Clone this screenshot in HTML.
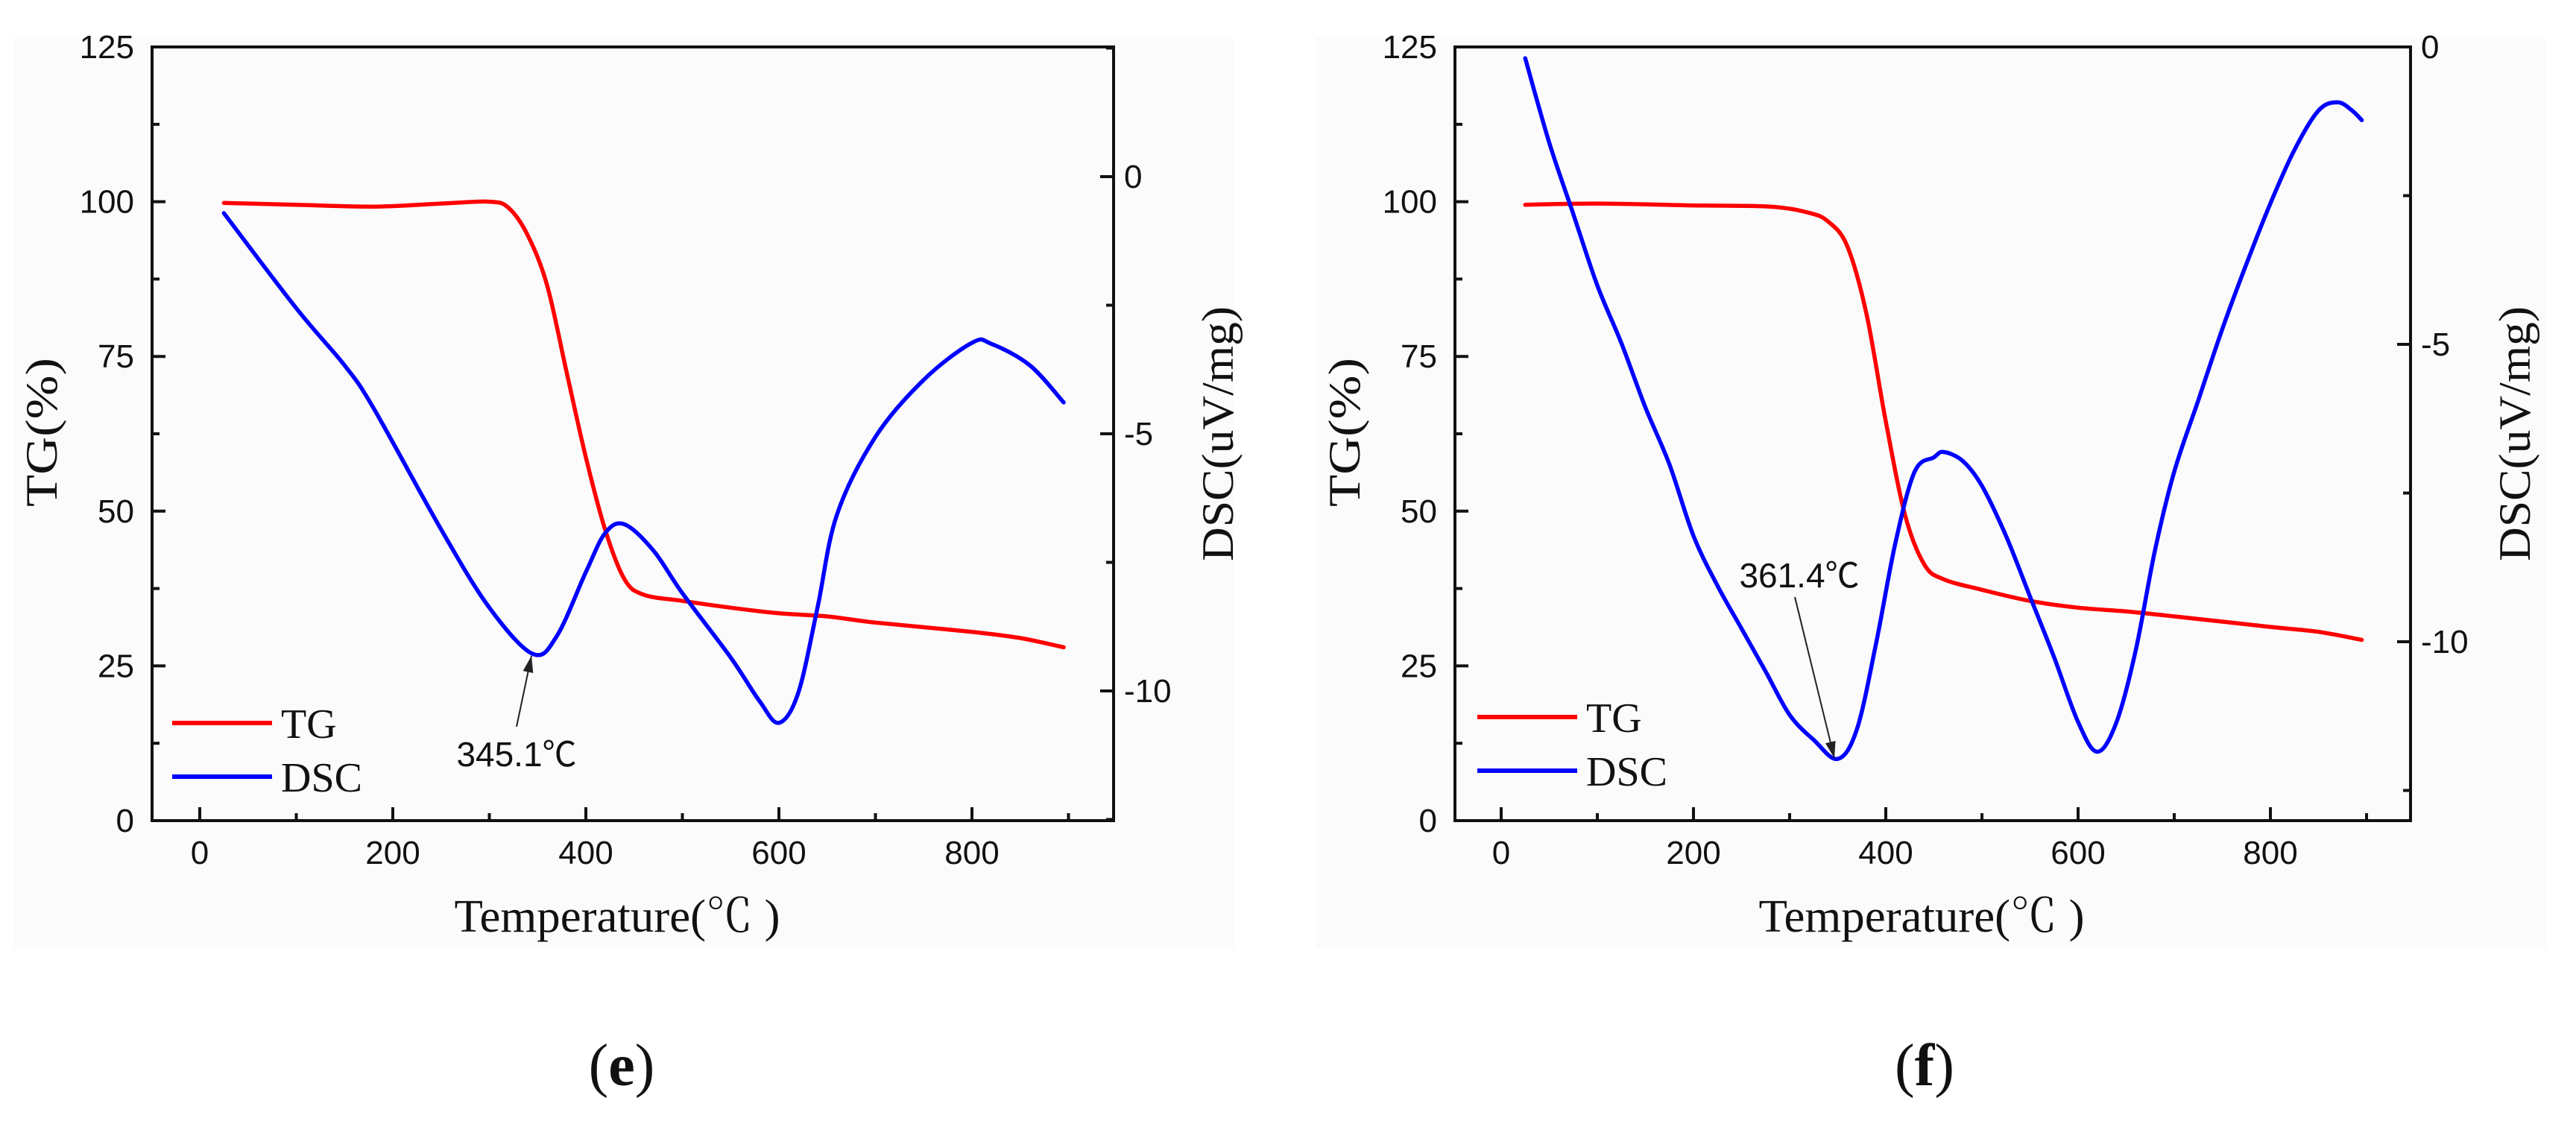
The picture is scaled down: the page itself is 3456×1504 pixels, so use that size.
<!DOCTYPE html>
<html><head><meta charset="utf-8"><style>html,body{margin:0;padding:0;background:#fff}svg{display:block}</style></head>
<body>
<svg id="fig" width="3456" height="1504" viewBox="0 0 3456 1504" xmlns="http://www.w3.org/2000/svg">
<rect x="0" y="0" width="3456" height="1504" fill="#fff"/>
<rect x="18" y="50" width="1638" height="1222" fill="#fbfbfb"/>
<rect x="1766" y="50" width="1650" height="1222" fill="#fbfbfb"/>
</svg>
<script>
// ---- Panel (e) data ----
const eTgTemp = [25,100,180,250,300,320,340,360,380,400,420,440,460,500,550,600,650,700,800,850,895];
const eTgVal  = [99.8,99.5,99.2,99.7,100,99,94.5,86.4,72.5,58.7,47,39,36.5,35.5,34.4,33.5,33,32,30.5,29.5,28];
const eDscTemp = [25,100,150,180,250,300,345,370,400,420,440,470,500,550,580,600,620,640,660,700,750,800,820,860,895];
const eDscVal  = [-0.71,-2.56,-3.67,-4.5,-6.86,-8.38,-9.28,-8.93,-7.69,-6.93,-6.76,-7.27,-8.1,-9.35,-10.2,-10.62,-10.04,-8.38,-6.58,-5.06,-3.95,-3.23,-3.25,-3.67,-4.39];
// ---- Panel (f) data ----
const fTgTemp = [25,100,200,280,320,340,360,380,400,420,440,460,500,550,600,650,700,800,850,895];
const fTgVal  = [99.5,99.7,99.4,99.2,98.2,96.8,92.8,81.8,64.5,49.4,41.4,39,37.3,35.5,34.4,33.8,33,31.3,30.5,29.2];
const fDscTemp = [25,50,75,100,125,150,175,200,225,250,275,300,325,350,370,390,410,430,450,460,480,500,525,550,575,600,620,640,660,680,700,725,750,775,800,825,850,870,885,895];
const fDscVal  = [-0.19,-1.61,-2.81,-4.01,-4.98,-6.06,-7.02,-8.22,-9.06,-9.78,-10.5,-11.23,-11.65,-11.97,-11.47,-10.02,-8.34,-7.14,-6.9,-6.81,-6.96,-7.38,-8.22,-9.24,-10.26,-11.35,-11.85,-11.35,-10.14,-8.46,-7.14,-5.94,-4.74,-3.65,-2.63,-1.73,-1.07,-0.93,-1.07,-1.23];
// ---- Ticks ----
const xTicks = [0,200,400,600,800];
const tgTicks = [0,25,50,75,100,125];
const dscTicks = [0,-5,-10];

const NS='http://www.w3.org/2000/svg';
const svg=document.getElementById('fig');
function mk(tag,attrs,parent,text){const e=document.createElementNS(NS,tag);for(const k in attrs)e.setAttribute(k,attrs[k]);if(text!==undefined)e.textContent=text;(parent||svg).appendChild(e);return e;}
function smooth(pts){let d='M'+pts[0][0]+','+pts[0][1];for(let i=0;i<pts.length-1;i++){const p0=pts[i-1]||pts[i],p1=pts[i],p2=pts[i+1],p3=pts[i+2]||p2;
const c1=[p1[0]+(p2[0]-p0[0])/6,p1[1]+(p2[1]-p0[1])/6],c2=[p2[0]-(p3[0]-p1[0])/6,p2[1]-(p3[1]-p1[1])/6];
d+=' C'+c1[0].toFixed(1)+','+c1[1].toFixed(1)+' '+c2[0].toFixed(1)+','+c2[1].toFixed(1)+' '+p2[0].toFixed(1)+','+p2[1].toFixed(1);}return d;}

function panel(c){
  const g=mk('g',{});
  
  
  const X=v=>c.x0+v*c.xs;
  const Y=v=>c.bottom-(v/125)*(c.bottom-c.top);
  const D=v=>c.d0-v*c.ds;
  const tk=mk('g',{stroke:'#111','stroke-width':4},g);
  
  
  for(let v=0;v<=900;v+=100){const L=(v%200===0)?18:10;mk('line',{x1:X(v),x2:X(v),y1:c.bottom,y2:c.bottom-L},tk);}
  for(let v=0;v<=125;v+=12.5){const L=(v%25===0)?18:10;mk('line',{x1:c.left,x2:c.left+L,y1:Y(v),y2:Y(v)},tk);}
  for(let v=c.dMax;v>=c.dMin;v-=2.5){const L=(Math.abs(v)%5===0)?18:10;const y=D(v);if(y<c.top||y>c.bottom)continue;mk('line',{x1:c.right,x2:c.right-L,y1:y,y2:y},tk);}
  const fr=mk('rect',{x:c.left,y:c.top,width:c.right-c.left,height:c.bottom-c.top,fill:'none',stroke:'#111','stroke-width':4},g);
  
  
  xTicks.forEach(v=>{const t=mk('text',{x:X(v),y:c.bottom+58,'text-anchor':'middle','font-family':'Liberation Sans, sans-serif','font-size':44,fill:'#111'},g,String(v));
    
    });
  tgTicks.forEach(v=>{const t=mk('text',{x:c.left-24,y:Y(v)+15,'text-anchor':'end','font-family':'Liberation Sans, sans-serif','font-size':44,fill:'#111'},g,String(v));
    
    });
  dscTicks.forEach(v=>{const t=mk('text',{x:c.right+14,y:D(v)+15,'font-family':'Liberation Sans, sans-serif','font-size':44,fill:'#111'},g,String(v));
    
    });
  const xt=mk('text',{x:c.xTitleX,y:1250,'text-anchor':'middle','font-family':'Liberation Serif, Noto Serif CJK SC, serif','font-size':62,fill:'#111',textLength:437,lengthAdjust:'spacingAndGlyphs'},g,'Temperature(℃ )');
  
  
  const yt=mk('text',{x:0,y:0,'text-anchor':'middle','font-family':'Liberation Serif, serif','font-size':60,fill:'#111',textLength:200,lengthAdjust:'spacingAndGlyphs',transform:'translate('+(c.left-128)+',580) rotate(-90)'},g,'TG(%)');
  
  
  const dt=mk('text',{x:0,y:0,'text-anchor':'middle','font-family':'Liberation Serif, serif','font-size':60,fill:'#111',textLength:342,lengthAdjust:'spacingAndGlyphs',transform:'translate('+(c.right+160)+',582) rotate(-90)'},g,'DSC(uV/mg)');
  
  
  const tg=mk('path',{d:smooth(c.tgT.map((t,i)=>[X(t),Y(c.tgV[i])])),fill:'none',stroke:'#ff0000','stroke-width':5.5,'stroke-linejoin':'round','stroke-linecap':'round'},g);
  
  
  const ds=mk('path',{d:smooth(c.dT.map((t,i)=>[X(t),D(c.dV[i])])),fill:'none',stroke:'#0000ff','stroke-width':5.5,'stroke-linejoin':'round','stroke-linecap':'round'},g);
  
  
  const lg=mk('g',{},g);
  
  
  [['TG','#ff0000',c.legY],['DSC','#0000ff',c.legY+72]].forEach(([n,col,y])=>{
    const l=mk('line',{x1:c.legX,x2:c.legX+134,y1:y,y2:y,stroke:col,'stroke-width':6},lg);
    
    
    const t=mk('text',{x:c.legX+146,y:y+20,'font-family':'Liberation Serif, serif','font-size':56,fill:'#111'},lg,n);
    
    
  });
  const an=mk('g',{},g);
  
  
  const at=mk('text',{x:c.annX,y:c.annY,'text-anchor':'middle','font-family':'Liberation Sans, Noto Sans CJK SC, sans-serif','font-size':46,fill:'#111'},an,c.annText);
  
  
  const [x1,y1,x2,y2]=c.arrow;
  const al=mk('line',{x1:x1,y1:y1,x2:x2,y2:y2,stroke:'#222','stroke-width':2},an);
  
  
  const ang=Math.atan2(y2-y1,x2-x1),L=22,W=7;
  const bx=x2-L*Math.cos(ang),by=y2-L*Math.sin(ang);
  const ah=mk('polygon',{points:x2+','+y2+' '+(bx+W*Math.sin(ang))+','+(by-W*Math.cos(ang))+' '+(bx-W*Math.sin(ang))+','+(by+W*Math.cos(ang)),fill:'#222'},an);
  
  
  const cp=mk('text',{x:c.capX,y:1456,'text-anchor':'middle','font-family':'Liberation Serif, serif','font-size':80,fill:'#111'},g);
  
  
  mk('tspan',{},cp,'(');mk('tspan',{'font-weight':'bold'},cp,c.cap);mk('tspan',{},cp,')');
}

panel({id:'panel-e',left:204,right:1494,top:63,bottom:1101,x0:268,xs:1.295,d0:237,ds:69,dMax:2.5,dMin:-12.5,
  tgT:eTgTemp,tgV:eTgVal,dT:eDscTemp,dV:eDscVal,legX:231,legY:970,xTitleX:828,
  annText:'345.1℃',annX:693,annY:1028,arrow:[693,975,713,880],capX:834,cap:'e'});
panel({id:'panel-f',left:1952,right:3234,top:63,bottom:1101,x0:2014,xs:1.29,d0:63,ds:79.8,dMax:0,dMin:-12.5,
  tgT:fTgTemp,tgV:fTgVal,dT:fDscTemp,dV:fDscVal,legX:1982,legY:962,xTitleX:2578,
  annText:'361.4℃',annX:2414,annY:788,arrow:[2408,801,2461,1017],capX:2582,cap:'f'});
</script>
</body></html>
